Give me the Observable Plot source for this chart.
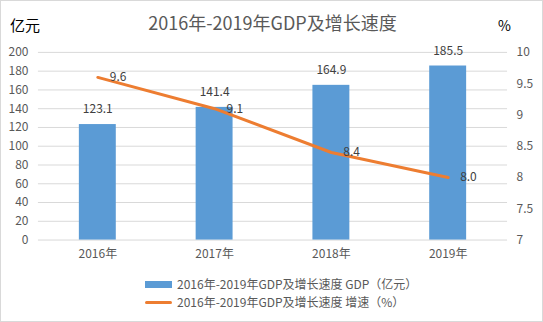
<!DOCTYPE html>
<html><head><meta charset="utf-8">
<script src="https://cdn.jsdelivr.net/npm/d3@7"></script>
<script src="https://cdn.jsdelivr.net/npm/@observablehq/plot@0.6"></script>
<style>
html,body{margin:0;padding:0;background:#fff;}
#wrap{position:relative;width:543px;height:322px;box-sizing:border-box;border:1px solid #d9d9d9;font-family:"Noto Sans CJK SC","Noto Sans",sans-serif;color:#595959;overflow:hidden;}
#title{position:absolute;left:0;width:543px;top:8px;text-align:center;font-size:18px;color:#595959;}
#lu{position:absolute;left:9px;top:13px;font-size:15px;color:#000;}
#ru{position:absolute;left:497px;top:14px;font-size:14px;color:#000;}
#chart{position:absolute;left:-1px;top:-1px;}
#legend{position:absolute;left:144px;top:274px;font-size:12px;color:#595959;line-height:18px;}
.li{display:flex;align-items:center;}
.sw{width:27px;margin-right:5px;}
</style></head>
<body><div id="wrap">
<div id="chart"></div>
<div id="title"></div>
<div id="lu">亿元</div>
<div id="ru">%</div>
<div id="legend"></div>
</div>
<script>
const years = ["2016年","2017年","2018年","2019年"];
const gdp = [123.1, 141.4, 164.9, 185.5];
const growth = [9.6, 9.1, 8.4, 8.0];
const leftTicks = [0,20,40,60,80,100,120,140,160,180,200];
const rightTicks = [7,7.5,8,8.5,9,9.5,10];
const titleText = "2016年-2019年GDP及增长速度";
const seriesNames = ["2016年-2019年GDP及增长速度 GDP（亿元）","2016年-2019年GDP及增长速度 增速（%）"];
const barColor = "#5B9BD5", lineColor = "#ED7D31";

// map right-axis values (7..10) onto left scale (0..200)
const toLeft = v => (v - 7) / 3 * 200;
const fromLeft = d => 7 + d / 200 * 3;

const bars = years.map((y,i)=>({year:y, v:gdp[i]}));
const pts = years.map((y,i)=>({year:y, g:growth[i], v:toLeft(growth[i])}));

const plot = Plot.plot({
  width: 543, height: 270,
  marginTop: 52, marginBottom: 30, marginLeft: 38, marginRight: 35,
  style: {fontFamily: '"Noto Sans CJK SC","Noto Sans",sans-serif', fontSize: "12px", color: "#595959", background: "transparent"},
  x: {domain: years, paddingInner: 0.686, paddingOuter: 0.343, label: null},
  y: {domain: [0,200], label: null},
  marks: [
    Plot.gridY(leftTicks, {stroke: "#d9d9d9", strokeOpacity: 1}),
    Plot.axisY(leftTicks, {anchor: "left", tickSize: 0, tickPadding: 10, label: null, fill: "#595959"}),
    Plot.axisY(rightTicks.map(toLeft), {anchor: "right", tickSize: 0, tickPadding: 9, label: null, fill: "#595959",
      tickFormat: d => { const v = Math.round(fromLeft(d)*10)/10; return String(v); }, textAnchor: "start"}),
    Plot.axisX({tickSize: 0, tickPadding: 9, label: null, fill: "#595959"}),
    Plot.barY(bars, {x: "year", y: "v", fill: barColor}),
    Plot.text(bars, {x: "year", y: "v", text: d => d.v.toFixed(1), dy: -15, fill: "#404040", fontSize: 12}),
    Plot.line(pts, {x: "year", y: "v", stroke: lineColor, strokeWidth: 3, strokeLinecap: "round"}),
    Plot.text(pts, {x: "year", y: "v", text: d => d.g.toFixed(1), dx: 12, textAnchor: "start", fill: "#404040", fontSize: 12})
  ]
});
document.getElementById("chart").appendChild(plot);
document.getElementById("title").textContent = titleText;
const lg = document.getElementById("legend");
lg.innerHTML = `<div class="li"><span class="sw" style="height:7px;background:${barColor}"></span>${seriesNames[0]}</div>
<div class="li"><span class="sw" style="height:3px;background:${lineColor};border-radius:2px"></span>${seriesNames[1]}</div>`;
</script>
</body></html>
